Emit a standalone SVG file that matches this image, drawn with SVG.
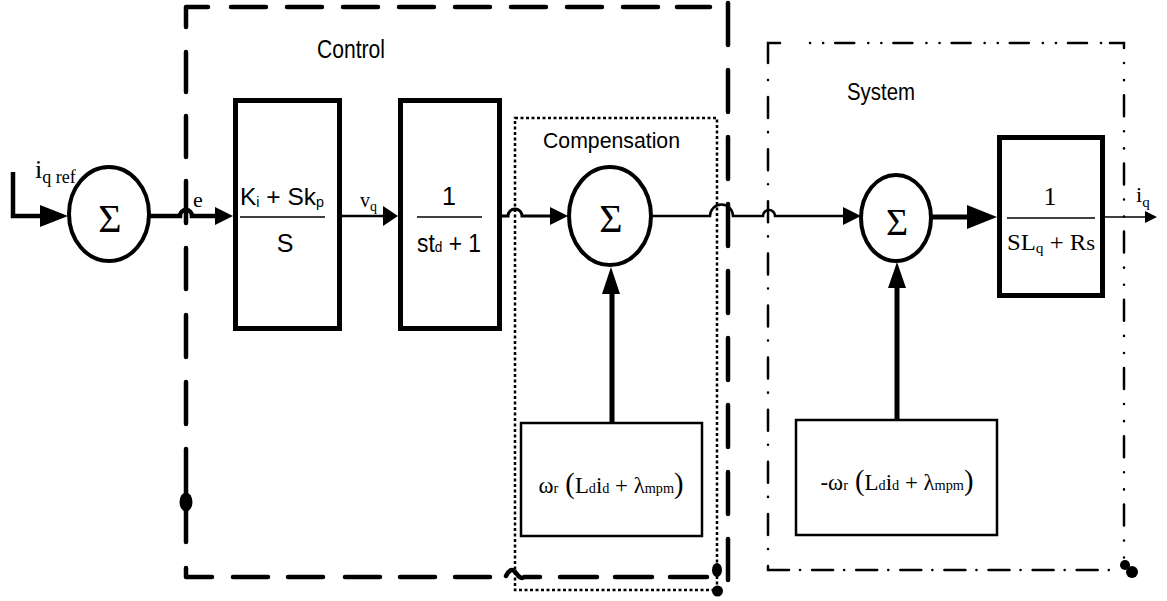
<svg xmlns="http://www.w3.org/2000/svg" width="1167" height="601" viewBox="0 0 1167 601">
<style>
.sans{font-family:"Liberation Sans",Arial,sans-serif;fill:#000}
.serif{font-family:"Liberation Serif","Times New Roman",serif;fill:#000}
.ctl{fill:none;stroke:#000;stroke-width:4.5;stroke-linecap:round;stroke-linejoin:round}
.cmp{fill:none;stroke:#000;stroke-width:2.5;stroke-dasharray:3 2.5}
.sys{fill:none;stroke:#000;stroke-width:2.5;stroke-linecap:round}
.blk{fill:#fff;stroke:#000;stroke-width:5}
.thin{fill:#fff;stroke:#000;stroke-width:2.5}
.sum{fill:#fff;stroke:#000;stroke-width:4}
.ln{fill:none;stroke:#000}
.ah{fill:#000;stroke:none}
.frac{stroke:#000;stroke-width:1.5}
.dot{fill:#000}
</style>

<!-- group frames -->
<g id="control-frame">
<path class="ctl" d="M208,7 H186 V27 M231,7 H266 M287,7 H322 M343,7 H378 M399,7 H434 M455,7 H490 M511,7 H546 M567,7 H602 M623,7 H658 M677,7 H710"/>
<path class="ctl" d="M186,52 V92 M186,116 V157 M186,181 V223 M186,248 V289 M186,315 V357 M186,382 V424 M186,449 V542 M186,568 V577 H212"/>
<path class="ctl" d="M233,577 H268 M288,577 H323 M345,577 H380 M400,577 H435 M455,577 H490 M506,576 Q511,566 516,573 T524,577 H540 M560,577 H597 M615,577 H652 M670,577 H707"/>
<path class="ctl" d="M728,3 V45 M728,70 V112 M728,137 V179 M728,204 V246 M728,271 V313 M728,338 V380 M728,405 V447 M728,472 V514 M728,539 V580"/>
<ellipse class="dot" cx="186" cy="502" rx="6.5" ry="9.5"/>
<ellipse class="dot" cx="717" cy="570" rx="5" ry="7"/>
<text class="sans" x="317" y="58" font-size="25" textLength="68" lengthAdjust="spacingAndGlyphs">Control</text>
</g>

<g id="compensation-frame">
<path class="cmp" d="M515,118 H717 V590 H515 Z"/>
<circle class="dot" cx="717.5" cy="591" r="5.5"/>
<text class="sans" x="543" y="148" font-size="22" textLength="137" lengthAdjust="spacingAndGlyphs">Compensation</text>
</g>

<g id="system-frame">
<path class="sys" d="M780,43 H768 V63"/>
<path class="sys" d="M810,43 H1110" stroke-dasharray="0.1 13 0.1 12 19 14"/>
<path class="sys" d="M1110,43 H1124 V48"/>
<path class="sys" d="M1124,63 V560" stroke-dasharray="0.1 17 0.1 15 21 15"/>
<path class="sys" d="M768,80 V556" stroke-dasharray="0.1 17 21 14"/>
<path class="sys" d="M768,566 V570"/>
<path class="sys" d="M768,570 H1110" stroke-dasharray="21 11 0.1 12"/>
<circle class="dot" cx="1125" cy="565" r="5"/>
<circle class="dot" cx="1132" cy="572" r="6"/>
<text class="sans" x="847" y="100" font-size="24" textLength="68" lengthAdjust="spacingAndGlyphs">System</text>
</g>

<!-- nodes -->
<g id="sum1">
<ellipse class="sum" cx="109" cy="214" rx="40" ry="47"/>
<text class="serif" x="110" y="232" font-size="40" text-anchor="middle">Σ</text>
</g>

<g id="pi-controller">
<rect class="blk" x="235.5" y="100.5" width="104" height="228"/>
<text class="sans" x="240" y="205" font-size="24" textLength="84" lengthAdjust="spacingAndGlyphs">K<tspan font-size="14" dy="2">i</tspan><tspan dy="-2"> + Sk</tspan><tspan font-size="14" dy="2">p</tspan></text>
<line class="frac" x1="240" y1="217" x2="325" y2="217"/>
<text class="sans" x="285" y="252" font-size="25" text-anchor="middle">S</text>
</g>

<g id="delay">
<rect class="blk" x="400.5" y="100.5" width="99" height="228"/>
<text class="sans" x="449" y="205" font-size="25" text-anchor="middle">1</text>
<line class="frac" x1="417" y1="217" x2="482" y2="217"/>
<text class="sans" x="417" y="252" font-size="25" textLength="64" lengthAdjust="spacingAndGlyphs">st<tspan font-size="15">d</tspan> + 1</text>
</g>

<g id="sum2">
<ellipse class="sum" cx="610" cy="216" rx="41" ry="49"/>
<text class="serif" x="611" y="232" font-size="40" text-anchor="middle">Σ</text>
</g>

<g id="comp-block">
<rect class="thin" x="521" y="423" width="181" height="113"/>
<text class="serif" x="611" y="493" font-size="24" text-anchor="middle" textLength="145" lengthAdjust="spacingAndGlyphs">ω<tspan font-size="15">r</tspan><tspan font-size="30"> (</tspan><tspan>L</tspan><tspan font-size="15">d</tspan><tspan>i</tspan><tspan font-size="15">d</tspan><tspan> + λ</tspan><tspan font-size="15">mpm</tspan><tspan font-size="30">)</tspan></text>
</g>

<g id="sum3">
<ellipse class="sum" cx="896" cy="218" rx="35" ry="43"/>
<text class="serif" x="897" y="235" font-size="38" text-anchor="middle">Σ</text>
</g>

<g id="plant">
<rect class="blk" x="999.5" y="137.5" width="103" height="158"/>
<text class="serif" x="1050" y="205" font-size="26" text-anchor="middle">1</text>
<line class="frac" x1="1007" y1="218" x2="1095" y2="218"/>
<text class="serif" x="1007" y="250" font-size="24" textLength="88" lengthAdjust="spacingAndGlyphs">SL<tspan font-size="15" dy="3">q</tspan><tspan dy="-3"> + R</tspan><tspan font-size="22">s</tspan></text>
</g>

<g id="emf-block">
<rect class="thin" x="796" y="420" width="201" height="115"/>
<text class="serif" x="897" y="490" font-size="24" text-anchor="middle" textLength="153" lengthAdjust="spacingAndGlyphs">-ω<tspan font-size="15">r</tspan><tspan font-size="30"> (</tspan><tspan>L</tspan><tspan font-size="15">d</tspan><tspan>i</tspan><tspan font-size="15">d</tspan><tspan> + λ</tspan><tspan font-size="15">mpm</tspan><tspan font-size="30">)</tspan></text>
</g>

<!-- connectors -->
<g id="connectors">
<path class="ln" stroke-width="4.5" d="M13,172 V216 H45"/>
<polygon class="ah" points="40,205 68,216 40,227"/>
<path class="ln" stroke-width="4.5" d="M150,216 H180 A6,6 0 0 1 192,216 H218"/>
<polygon class="ah" points="215,207 233,216 215,225"/>
<path class="ln" stroke-width="2.5" d="M340,216 H388"/>
<polygon class="ah" points="383,206 398,216 383,226"/>
<path class="ln" stroke-width="3" d="M502,216 H508 A7,7 0 0 1 522,216 H555"/>
<polygon class="ah" points="550,207 568,216 550,225"/>
<path class="ln" stroke-width="2.5" d="M652,216 H710 A11.5,11.5 0 0 1 733,216 H763 A6,6 0 0 1 775,216 H848"/>
<polygon class="ah" points="843,207 861,216 843,225"/>
<path class="ln" stroke-width="5" d="M931,217 H970"/>
<polygon class="ah" points="967,205 997,217 967,229"/>
<path class="ln" stroke-width="1.5" d="M1102,217 H1148"/>
<polygon class="ah" points="1145,211 1157,217 1145,223"/>
<path class="ln" stroke-width="5" d="M612,423 V290"/>
<polygon class="ah" points="602,294 611,267 620,294"/>
<path class="ln" stroke-width="5" d="M897,420 V285"/>
<polygon class="ah" points="888,288 897,262 906,288"/>
</g>

<g id="labels">
<text class="serif" x="35" y="178" font-size="26">i<tspan font-size="18" dy="5">q ref</tspan></text>
<text class="serif" x="193" y="207" font-size="22">e</text>
<text class="serif" x="360" y="207" font-size="20">v<tspan font-size="14" dy="4">q</tspan></text>
<text class="serif" x="1136" y="202" font-size="22">i<tspan font-size="15" dy="5">q</tspan></text>
</g>
</svg>
